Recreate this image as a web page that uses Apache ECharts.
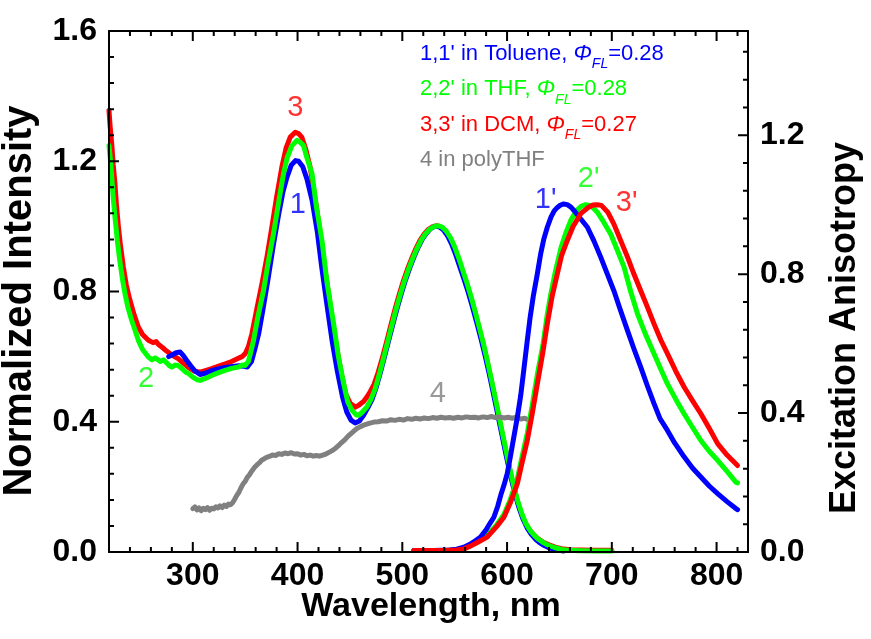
<!DOCTYPE html>
<html><head><meta charset="utf-8">
<script src="https://cdn.jsdelivr.net/npm/echarts@6/dist/echarts.min.js"></script>
<style>html,body{margin:0;padding:0;background:#fff}#c{width:871px;height:639px}</style>
</head><body><div id="c"></div>
<script>
const FONT = '"Liberation Sans", Arial, Helvetica, sans-serif';

// ---- ticks and tick labels ----
const xTickLabels = [300, 400, 500, 600, 700, 800];
const xMinorTicks = [240,260,280,320,340,360,380,420,440,460,480,520,540,560,580,620,640,660,680,720,740,760,780,820];
const yLeftTickLabels = [0.0, 0.4, 0.8, 1.2, 1.6];
const yLeftMinorTicks = [0.08,0.16,0.24,0.32,0.48,0.56,0.64,0.72,0.88,0.96,1.04,1.12,1.28,1.36,1.44,1.52];
const yRightTickLabels = [0.0, 0.4, 0.8, 1.2];
const yRightMinorTicks = [0.08,0.16,0.24,0.32,0.48,0.56,0.64,0.72,0.88,0.96,1.04,1.12,1.28,1.36,1.44];

// ---- absorption / excitation spectra (left axis, normalized intensity) ----
const absToluene = [[277,0.600],[280,0.605],[284,0.612],[288,0.614],[291,0.603],[294,0.589],[298,0.572],[302,0.556],[307,0.545],[312,0.549],[318,0.557],[325,0.563],[331,0.567],[338,0.570],[344,0.572],[349,0.570],[352,0.568],[356,0.585],[359,0.620],[363,0.672],[367,0.745],[372,0.842],[377,0.945],[382,1.038],[386,1.105],[390,1.152],[394,1.188],[398,1.202],[401,1.200],[405,1.183],[409,1.145],[414,1.078],[419,0.980],[423,0.876],[428,0.760],[433,0.648],[438,0.555],[443,0.475],[447,0.430],[451,0.405],[455,0.396],[459,0.402],[463,0.420],[467,0.443],[471,0.468],[475,0.505],[479,0.550],[483,0.600],[487,0.650],[491,0.700],[495,0.748],[499,0.793],[503,0.835],[507,0.872],[511,0.905],[515,0.935],[519,0.960],[523,0.979],[527,0.993],[531,1.000],[535,0.999],[539,0.990],[543,0.972],[547,0.946],[551,0.913],[555,0.875],[559,0.837],[563,0.797],[567,0.752],[571,0.705],[575,0.656],[579,0.604],[583,0.547],[587,0.486],[591,0.424],[595,0.362],[599,0.299],[603,0.240],[607,0.186],[611,0.140],[615,0.103],[619,0.075],[623,0.055],[627,0.040],[631,0.029],[636,0.019],[641,0.012],[647,0.007],[654,0.003]];
const absTHF = [[220,1.248],[221.5,1.200],[222.6,1.152],[224,1.090],[225.7,1.029],[228,0.955],[230.5,0.890],[233,0.835],[235.3,0.793],[238,0.752],[241.7,0.711],[245,0.680],[248,0.650],[252,0.622],[257.6,0.599],[261,0.590],[264,0.596],[266,0.592],[269,0.585],[272,0.590],[275,0.581],[278,0.571],[280,0.568],[283,0.574],[286,0.573],[290,0.562],[293,0.553],[296,0.548],[300,0.537],[304,0.529],[307,0.527],[312,0.533],[318,0.542],[324,0.550],[331,0.558],[337,0.564],[343.6,0.568],[347,0.574],[350,0.573],[353,0.585],[355,0.610],[358,0.650],[362,0.720],[367.5,0.803],[372,0.890],[377,0.977],[382,1.075],[386.6,1.162],[390,1.210],[394.6,1.248],[399.4,1.264],[402,1.260],[405.7,1.248],[409,1.210],[413.8,1.162],[418,1.060],[423.3,0.957],[428,0.830],[434.4,0.701],[439,0.600],[444,0.517],[448,0.460],[452,0.435],[456,0.421],[458.3,0.420],[462,0.430],[466,0.445],[470,0.468],[474,0.500],[478,0.545],[482,0.595],[486,0.645],[490,0.696],[494,0.745],[498,0.790],[502,0.832],[506,0.869],[510,0.902],[514,0.932],[518,0.958],[522,0.977],[526,0.991],[530,0.999],[534,1.002],[538,0.998],[542,0.985],[546,0.965],[550,0.937],[554,0.902],[558,0.862],[562,0.823],[566,0.780],[570,0.733],[574,0.684],[578,0.632],[582,0.575],[586,0.515],[590,0.453],[594,0.390],[598,0.327],[602,0.265],[606,0.208],[610,0.158],[614,0.118],[618,0.087],[622,0.066],[626,0.051],[630,0.039],[635,0.028],[640,0.020],[646,0.013],[652,0.008],[660,0.005],[670,0.004],[685,0.003],[700,0.003]];
const absDCM = [[220,1.356],[221,1.310],[222.6,1.254],[224,1.190],[225.7,1.131],[227,1.070],[229,0.998],[231,0.940],[233.7,0.875],[236.5,0.820],[240,0.773],[244,0.728],[248,0.691],[252,0.668],[257.6,0.650],[262,0.643],[265,0.646],[267,0.638],[271,0.628],[275,0.617],[280,0.605],[286,0.594],[291,0.580],[296,0.566],[301,0.556],[307,0.552],[312,0.557],[318,0.563],[324,0.570],[331,0.578],[337,0.585],[343,0.594],[347,0.600],[350,0.609],[353,0.630],[356.4,0.670],[361,0.745],[366,0.824],[371,0.910],[375.5,0.998],[380,1.090],[385,1.182],[389,1.240],[393,1.274],[397.8,1.289],[401,1.285],[404,1.274],[408,1.235],[412,1.182],[417,1.080],[421.7,0.977],[427,0.850],[432.9,0.721],[438,0.615],[442.5,0.537],[446,0.485],[450.4,0.456],[455.2,0.445],[459,0.452],[463,0.462],[466,0.475],[469,0.490],[473,0.515],[477,0.552],[481,0.597],[485,0.645],[489,0.696],[493,0.745],[497,0.790],[501,0.832],[505,0.869],[509,0.902],[513,0.932],[517,0.958],[521,0.977],[525,0.991],[529,0.999],[533,1.002],[537,0.998],[541,0.986],[545,0.966],[549,0.939],[553,0.905],[557,0.866],[561,0.828],[565,0.786],[569,0.740],[573,0.692],[577,0.641],[581,0.585],[585,0.526],[589,0.464],[593,0.401],[597,0.338],[601,0.276],[605,0.218],[609,0.166],[613,0.124],[617,0.092],[621,0.070],[625,0.054],[629,0.042],[634,0.031],[640,0.022],[646,0.015],[652,0.010],[660,0.007],[670,0.006],[685,0.005],[700,0.005]];

// ---- emission spectra (right axis scale, peak-normalized) ----
const emToluene = [[511,0.004],[530,0.004],[545,0.006],[552,0.008],[558.7,0.014],[565,0.023],[570,0.033],[574.7,0.043],[580,0.064],[584,0.084],[587.4,0.100],[591,0.131],[594,0.164],[597,0.192],[600.2,0.226],[603,0.272],[606,0.323],[609.8,0.388],[613,0.450],[616,0.525],[619.3,0.609],[622,0.675],[625,0.736],[628.9,0.801],[632,0.857],[635,0.900],[638.4,0.935],[642,0.965],[645,0.982],[648,0.992],[651,0.999],[654,1.002],[657.5,1.000],[661,0.993],[665,0.979],[670,0.960],[676.7,0.935],[683,0.895],[689.4,0.849],[695,0.806],[702,0.752],[708,0.698],[714.9,0.638],[721,0.586],[727.6,0.532],[734,0.478],[740.3,0.427],[746,0.384],[753.1,0.350],[760,0.314],[769,0.274],[777,0.242],[785,0.216],[793,0.190],[801,0.168],[810,0.145],[818.4,0.125],[820,0.122]];
const emTHF = [[511,0.004],[540,0.004],[552,0.006],[558.7,0.010],[565,0.018],[572,0.029],[581,0.047],[590,0.078],[597,0.108],[603,0.150],[609.8,0.211],[614,0.270],[619.3,0.342],[624,0.422],[628.9,0.511],[634.4,0.600],[638.4,0.684],[641.6,0.740],[646,0.806],[651.6,0.877],[656,0.918],[661,0.956],[666,0.982],[671,0.996],[675,1.000],[680,0.997],[686,0.979],[692,0.951],[699,0.915],[705,0.871],[711.7,0.820],[718,0.750],[724.5,0.686],[732,0.628],[740.3,0.571],[747,0.525],[753.1,0.484],[761,0.440],[769,0.398],[777,0.359],[785,0.321],[793,0.290],[801,0.264],[810,0.232],[818.4,0.201],[820,0.199]];
const emDCM = [[511,0.004],[540,0.004],[552,0.006],[558.7,0.009],[565,0.017],[572,0.028],[581,0.043],[590,0.073],[597,0.100],[603,0.141],[609.8,0.197],[614,0.253],[619.3,0.321],[624,0.398],[628.9,0.484],[634,0.572],[638.4,0.657],[643,0.736],[648,0.801],[652,0.853],[657.5,0.897],[663,0.937],[670.3,0.974],[677,0.991],[682,0.999],[686,1.000],[690,0.998],[696,0.979],[702,0.944],[708,0.900],[715,0.849],[721,0.801],[727.6,0.752],[734,0.705],[740.3,0.657],[747,0.609],[753.1,0.571],[761,0.521],[769,0.475],[777,0.436],[785,0.398],[793,0.356],[801,0.312],[810,0.279],[820,0.249]];

// ---- excitation anisotropy, 4 in polyTHF (right axis) ----
const anisoPolyTHF = [[300,0.125],[302,0.130],[304,0.121],[306,0.127],[308,0.119],[310,0.126],[312,0.122],[314,0.128],[316,0.120],[318,0.126],[320,0.124],[322,0.130],[324,0.127],[326,0.133],[328,0.128],[330,0.135],[332,0.131],[334,0.138],[336,0.136],[338,0.142],[340,0.152],[342,0.163],[344,0.172],[346,0.185],[348,0.196],[350,0.203],[352,0.215],[354,0.222],[356,0.232],[358,0.240],[360,0.247],[362,0.253],[364,0.258],[366,0.265],[368,0.268],[370,0.272],[373,0.275],[376,0.279],[379,0.278],[382,0.283],[385,0.281],[388,0.285],[391,0.283],[394,0.286],[397,0.282],[400,0.283],[403,0.279],[406,0.281],[409,0.277],[412,0.279],[415,0.276],[418,0.278],[421,0.276],[424,0.279],[427,0.282],[430,0.287],[433,0.292],[436,0.298],[439,0.306],[442,0.315],[445,0.323],[448,0.333],[451,0.341],[454,0.349],[457,0.356],[460,0.361],[463,0.365],[466,0.368],[469,0.371],[473,0.374],[477,0.375],[481,0.378],[485,0.377],[489,0.381],[493,0.379],[497,0.382],[501,0.380],[505,0.384],[509,0.382],[513,0.385],[517,0.383],[521,0.386],[525,0.384],[529,0.387],[533,0.385],[537,0.388],[541,0.386],[545,0.387],[549,0.385],[553,0.388],[557,0.386],[561,0.389],[565,0.387],[569,0.388],[573,0.386],[577,0.389],[581,0.387],[585,0.390],[589,0.387],[593,0.389],[597,0.386],[601,0.388],[605,0.385],[609,0.388],[613,0.383],[617,0.385],[620,0.381]];

// ---- curve annotations (wavelength, left-axis value) ----
const curveLabelText = ['3', '1', '2', "1'", "2'", "3'", '4'];
const curveLabelPos = [[397.8,1.362],[400.2,1.067],[255.4,0.530],[636.8,1.082],[677.9,1.146],[714.2,1.073],[534,0.484]];
const curveLabelColor = ['#ff0000','#0000ff','#00ff00','#0000ff','#00ff00','#ff0000','#808080'];

// ---- legend text ----
const legendText = ["1,1' in Toluene, ", "2,2' in THF, ", "3,3' in DCM, ", '4 in polyTHF'];
const legendPhi = ['0.28', '0.28', '0.27', null];
const legendColor = ['#0000ff', '#00ff00', '#ff0000', '#808080'];

const C = { blue:'#0000ff', green:'#00ff00', red:'#ff0000', gray:'#808080' };
const X_MIN = 220, X_MAX = 830, YL_MIN = 0, YL_MAX = 1.6, YR_MIN = 0, YR_MAX = 1.5;
const GRID = { left: 109, right: 123, top: 31, bottom: 87 };
const W = 871, H = 639;
const plotW = W - GRID.left - GRID.right, plotH = H - GRID.top - GRID.bottom;
// tick lengths in px converted to each axis' units
const xPerPx = (X_MAX - X_MIN) / plotW, ylPerPx = (YL_MAX - YL_MIN) / plotH, yrPerPx = (YR_MAX - YR_MIN) / plotH;

const chart = echarts.init(document.getElementById('c'), null, { renderer: 'canvas' });

const labelStyle = { fontFamily: FONT, fontWeight: 'bold', fontSize: 32, color: '#000' };
function axLine() { return { show: true, onZero: false, lineStyle: { color: '#000', width: 2 } }; }
function near(list, v) { for (const t of list) if (Math.abs(v - t) < 1e-6) return t; return null; }

const series = [];
function line(data, color, yIdx, z) {
  series.push({
    type: 'line', data: data, xAxisIndex: 0, yAxisIndex: yIdx, showSymbol: false, symbol: 'none',
    lineStyle: { color: color, width: 5, cap: 'round', join: 'round' }, z: z, silent: true, clip: true
  });
}
line(absDCM, C.red, 0, 2);
line(absToluene, C.blue, 0, 3);
line(absTHF, C.green, 0, 4);
line(anisoPolyTHF, C.gray, 1, 5);
line(emTHF, C.green, 1, 6);
line(emToluene, C.blue, 1, 7);
line(emDCM, C.red, 1, 8);

// inward tick marks: one polyline per frame side that runs along the axis and steps in at each tick value
function tickList(major, minor) {
  return major.map(v => [v, 10]).concat(minor.map(v => [v, 5])).sort((a, b) => a[0] - b[0]);
}
function tickPath(side, list) {
  const d = [];
  if (side === 'bottom' || side === 'top') {
    const y0 = side === 'bottom' ? YL_MIN : YL_MAX, dir = side === 'bottom' ? 1 : -1;
    d.push([X_MIN, y0]);
    list.forEach(t => { d.push([t[0], y0]); d.push([t[0], y0 + dir * t[1] * ylPerPx]); d.push([t[0], y0]); });
    d.push([X_MAX, y0]);
  } else {
    const x0 = side === 'left' ? X_MIN : X_MAX, dir = side === 'left' ? 1 : -1;
    const lo = side === 'left' ? YL_MIN : YR_MIN, hi = side === 'left' ? YL_MAX : YR_MAX;
    d.push([x0, lo]);
    list.forEach(t => { d.push([x0, t[0]]); d.push([x0 + dir * t[1] * xPerPx, t[0]]); d.push([x0, t[0]]); });
    d.push([x0, hi]);
  }
  return d;
}
function tickSeries(side, list, yIdx) {
  return { type: 'line', data: tickPath(side, list), xAxisIndex: 0, yAxisIndex: yIdx, showSymbol: false, symbol: 'none',
    lineStyle: { color: '#000', width: 2, cap: 'butt', join: 'bevel' }, z: 40, silent: true, clip: false, smooth: false };
}
series.push(tickSeries('bottom', tickList(xTickLabels, xMinorTicks), 0));
series.push(tickSeries('top', tickList(xTickLabels, xMinorTicks), 0));
series.push(tickSeries('left', tickList(yLeftTickLabels.slice(1, 4), yLeftMinorTicks), 0));
series.push(tickSeries('right', tickList(yRightTickLabels.slice(1), yRightMinorTicks), 1));

series.push({
  type: 'scatter', xAxisIndex: 0, yAxisIndex: 0, symbolSize: 0, silent: true, z: 20,
  data: curveLabelPos.map((p, i) => ({ value: p, name: curveLabelText[i], label: { color: curveLabelColor[i] } })),
  label: { show: true, position: 'inside', formatter: '{b}', fontFamily: FONT, fontSize: 29, fontWeight: 'normal' }
});

const graphic = [
  { type: 'text', x: 20, y: 301, rotation: Math.PI / 2, silent: true,
    style: { text: 'Normalized Intensity', fontFamily: FONT, fontWeight: 'bold', fontSize: 40, fill: '#000',
      align: 'center', verticalAlign: 'middle', textAlign: 'center', textVerticalAlign: 'middle' } },
  { type: 'text', x: 845, y: 328, rotation: Math.PI / 2, silent: true,
    style: { text: 'Excitation Anisotropy', fontFamily: FONT, fontWeight: 'bold', fontSize: 36, fill: '#000',
      align: 'center', verticalAlign: 'middle', textAlign: 'center', textVerticalAlign: 'middle' } },
  { type: 'text', x: 431, y: 607, silent: true,
    style: { text: 'Wavelength, nm', fontFamily: FONT, fontWeight: 'bold', fontSize: 34, fill: '#000',
      align: 'center', verticalAlign: 'middle', textAlign: 'center', textVerticalAlign: 'middle' } }
];
legendText.forEach((t, i) => {
  const txt = legendPhi[i] ? '{a|' + t + '}{p|Φ}{s|FL}{a|=' + legendPhi[i] + '}' : '{a|' + t + '}';
  graphic.push({
    type: 'text', x: 420, y: 53.5 + i * 35.5, silent: true,
    style: {
      text: txt, fill: legendColor[i], fontFamily: FONT, fontSize: 22,
      align: 'left', verticalAlign: 'middle', textAlign: 'left', textVerticalAlign: 'middle',
      rich: {
        a: { fontFamily: FONT, fontSize: 22, fill: legendColor[i] },
        p: { fontFamily: FONT, fontSize: 22, fontStyle: 'italic', fill: legendColor[i] },
        s: { fontFamily: FONT, fontSize: 14, fontStyle: 'italic', fill: legendColor[i], padding: [22, 0, 0, 0] }
      }
    }
  });
});

chart.setOption({
  animation: false,
  backgroundColor: '#ffffff',
  grid: Object.assign({ containLabel: false }, GRID),
  xAxis: [
    { type: 'value', position: 'bottom', min: X_MIN, max: X_MAX, splitNumber: 5,
      axisLine: axLine(), splitLine: { show: false }, axisTick: { show: false },
      axisLabel: Object.assign({ show: true, margin: 8, showMinLabel: false, showMaxLabel: false,
        formatter: v => { const t = near(xTickLabels, v); return t === null ? '' : String(t); } }, labelStyle) },
    { type: 'value', position: 'top', min: X_MIN, max: X_MAX, splitNumber: 5,
      axisLine: axLine(), splitLine: { show: false }, axisTick: { show: false }, axisLabel: { show: false } }
  ],
  yAxis: [
    { type: 'value', position: 'left', min: YL_MIN, max: YL_MAX, interval: 0.4,
      axisLine: axLine(), splitLine: { show: false }, axisTick: { show: false },
      axisLabel: Object.assign({ margin: 12, formatter: v => { const t = near(yLeftTickLabels, v); return t === null ? '' : t.toFixed(1); } }, labelStyle) },
    { type: 'value', position: 'right', min: YR_MIN, max: YR_MAX, interval: 0.4,
      axisLine: axLine(), splitLine: { show: false }, axisTick: { show: false },
      axisLabel: Object.assign({ margin: 12, showMaxLabel: false, formatter: v => { const t = near(yRightTickLabels, v); return t === null ? '' : t.toFixed(1); } }, labelStyle) }
  ],
  series: series,
  graphic: graphic
});
</script>
</body></html>
